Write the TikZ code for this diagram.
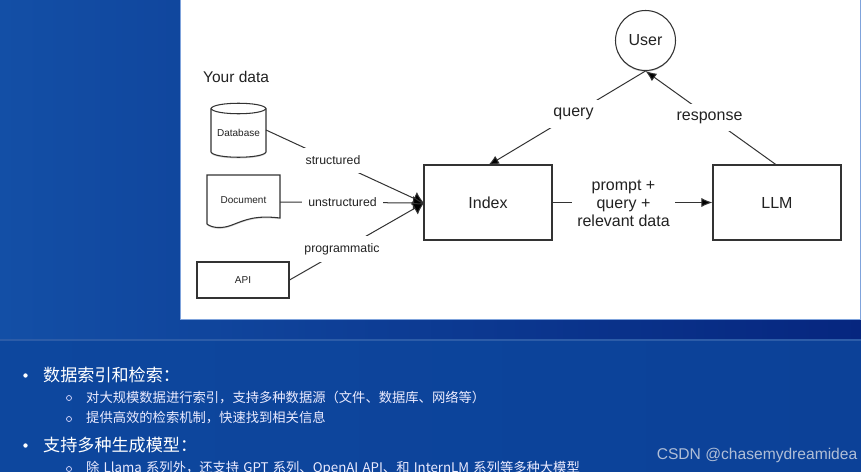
\documentclass[tikz,border=0pt]{standalone}
\usepackage{fontspec}
\setmainfont{Liberation Sans}
\newfontfamily\cjkfont{Noto Sans CJK SC}
\usetikzlibrary{arrows.meta,shadows}
\definecolor{linecol}{HTML}{333333}
\definecolor{txtcol}{HTML}{222222}
\definecolor{bgl}{HTML}{134FA6}
\definecolor{bgr}{HTML}{06267F}
\definecolor{panl}{HTML}{0D479E}
\definecolor{panr}{HTML}{0C4198}
\definecolor{rulecol}{HTML}{2C5CA8}
\definecolor{framecol}{HTML}{7FA3DC}
\definecolor{wmcol}{HTML}{B0BED7}
\tikzset{
  x=1pt,y=-1pt,
  shape shadow/.style={drop shadow={shadow xshift=0pt,shadow yshift=-1.2pt,opacity=.25,fill=black!70}},
  boxnode/.style={draw=linecol,line width=1.05pt,fill=white,rectangle,inner sep=0pt,text=txtcol,shape shadow},
  conn/.style={draw=linecol,line width=1pt},
  arrowconn/.style={conn,-{Latex[length=11pt,width=9pt,fill=black]}},
  mergeconn/.style={conn,-{Latex[length=11pt,width=14pt,fill=black]}},
  edgelabel/.style={fill=white,text=txtcol,inner xsep=4pt,inner ysep=4pt,align=center},
  small/.style={font=\fontsize{10}{12}\selectfont,text=txtcol},
  midl/.style={font=\fontsize{12.3}{14}\selectfont},
  big/.style={font=\fontsize{16}{18}\selectfont},
  head/.style={anchor=west,text=white,font=\cjkfont\fontsize{17.1}{20}\selectfont,inner sep=0pt},
  sub/.style={anchor=west,text=white!92!blue,font=\cjkfont\fontsize{13.3}{16}\selectfont,inner sep=0pt},
  dotmark/.style={circle,fill=white,inner sep=0pt,minimum size=4.4pt},
  ringmark/.style={circle,draw=white!85!blue,line width=.7pt,inner sep=0pt,minimum size=5pt},
}
\begin{document}
\begin{tikzpicture}
\useasboundingbox (0,0) rectangle (861,471);
\clip (0,0) rectangle (861,471);
% backgrounds
\shade[left color=bgl,right color=bgr] (0,0) rectangle (861,340);
\shade[left color=panl,right color=panr] (0,340) rectangle (861,471);
\fill[rulecol] (0,339) rectangle (861,341);
\fill[white] (180,0) rectangle (861,319);
\draw[framecol,line width=1pt] (180.5,0) -- (180.5,319) -- (860.5,319) -- (860.5,0);
% Database
\draw[line width=1.05pt,draw=linecol,fill=white,shape shadow] (211,108.5) -- (211,152) .. controls (214,159) and (263,159) .. (266,152) -- (266,108.5) .. controls (263,101.5) and (214,101.5) .. (211,108.5) -- cycle;
\draw[line width=1.05pt,draw=linecol] (211,108.5) .. controls (214,115.5) and (263,115.5) .. (266,108.5);
\node[small] (db) at (238.5,133) {Database};
\coordinate (dbr) at (266,130);
% Document
\draw[line width=1.05pt,draw=linecol,fill=white,shape shadow] (207,175) -- (280,175) -- (280,218) .. controls (255,215) and (245,220) .. (232,225) .. controls (222,229) and (212,228) .. (207,224) -- cycle;
\node[small] (doc) at (243.5,200) {Document};
\coordinate (docr) at (280,202);
% API
\node[boxnode,small,minimum width=92pt,minimum height=36pt] (api) at (243,280) {API};
% Index, LLM
\node[boxnode,big,minimum width=128pt,minimum height=75pt] (index) at (488,202.5) {Index};
\node[boxnode,big,minimum width=128pt,minimum height=75pt] (llm) at (777,202.5) {LLM};
% User
\node[boxnode,circle,big,minimum size=60pt] (user) at (645.5,40.5) {User};
\node[anchor=west,inner sep=0pt,text=txtcol,font=\fontsize{15.5}{18}\selectfont] (yd) at (203,77) {Your data};
% connectors
\coordinate (merge) at (424,203);
\coordinate (ub) at (645.5,71);
\coordinate (ib) at (488,165.5);
\coordinate (lt) at (776.5,165);
\draw[mergeconn] (dbr) -- (merge);
\draw[mergeconn] (docr) -- (merge);
\draw[mergeconn] (api.east) -- (merge);
\draw[arrowconn] (ub) -- (ib);
\draw[arrowconn] (lt) -- (ub);
\draw[arrowconn] (index.east) -- (llm.west);
% labels
\node[edgelabel,midl,inner xsep=2pt,inner ysep=8pt] (l1) at (333,160.5) {structured};
\node[edgelabel,midl,inner xsep=6pt] (l2) at (342.5,202) {unstructured};
\node[edgelabel,midl,inner xsep=2pt,inner ysep=7pt] (l3) at (342,249) {programmatic};
\node[edgelabel,big,inner xsep=8pt,inner ysep=8pt] (l4) at (573.5,114) {query};
\node[edgelabel,big,inner xsep=6pt,inner ysep=8pt] (l5) at (709.5,117.5) {response};
\node[edgelabel,font=\fontsize{16}{18.3}\selectfont,inner xsep=5pt,inner ysep=2pt] (l6) at (623.5,203.5) {prompt +\\query +\\relevant data};
% lower text
\node[dotmark] (b1) at (25.5,375.5) {};
\node[head] (t1) at (43,375) {数据索引和检索：};
\node[ringmark] (r1) at (69,398) {};
\node[sub] (t2) at (86,397.5) {对大规模数据进行索引，支持多种数据源（文件、数据库、网络等）};
\node[ringmark] (r2) at (69,419) {};
\node[sub] (t3) at (86,418) {提供高效的检索机制，快速找到相关信息};
\node[dotmark] (b2) at (25.5,445.5) {};
\node[head] (t4) at (43,445) {支持多种生成模型：};
\node[ringmark] (r3) at (69,469) {};
\node[sub] (t5) at (86,468) {\spaceskip=4.2pt 除 Llama 系列外，还支持 GPT 系列、OpenAI API、和 InternLM 系列等多种大模型};
\node[anchor=east,inner sep=0pt,text=wmcol,font=\fontsize{15.6}{18}\selectfont] (wm) at (857.5,455) {CSDN @chasemydreamidea};
\end{tikzpicture}
\end{document}
